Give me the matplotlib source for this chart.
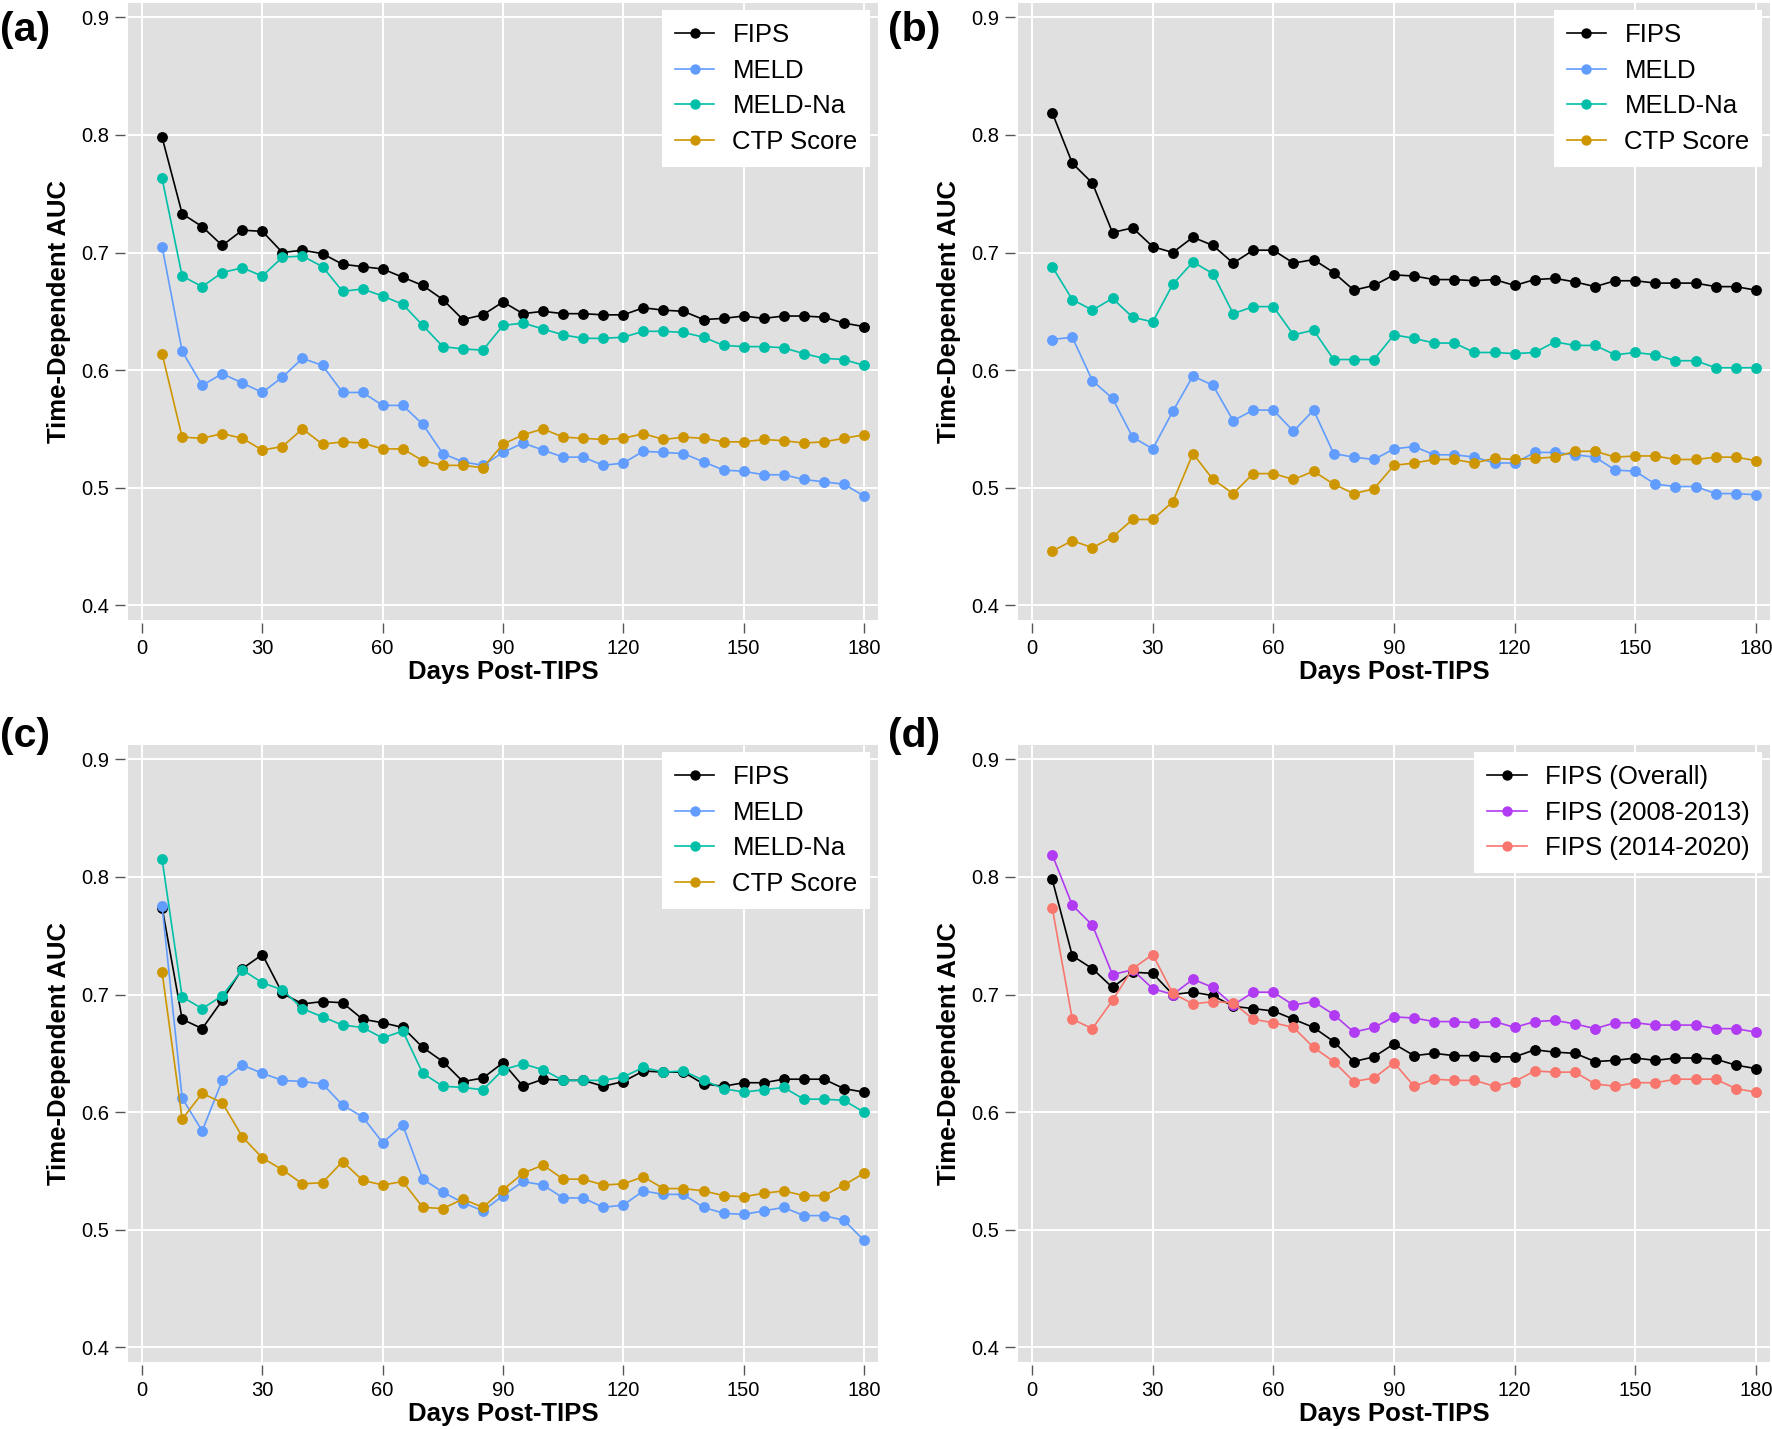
"""Time-dependent AUC of FIPS vs MELD / MELD-Na / CTP, four panels."""
import matplotlib

matplotlib.use("Agg")
import matplotlib.pyplot as plt

days = list(range(5, 181, 5))

# (a) overall cohort
fips_a = [0.798, 0.733, 0.722, 0.706, 0.719, 0.718, 0.700, 0.702, 0.699, 0.690,
          0.688, 0.686, 0.679, 0.672, 0.660, 0.643, 0.647, 0.658, 0.648, 0.650,
          0.648, 0.648, 0.647, 0.647, 0.653, 0.651, 0.650, 0.643, 0.644, 0.646,
          0.644, 0.646, 0.646, 0.645, 0.640, 0.637]
meld_a = [0.705, 0.616, 0.587, 0.597, 0.589, 0.581, 0.594, 0.610, 0.604, 0.581,
          0.581, 0.570, 0.570, 0.554, 0.529, 0.522, 0.519, 0.530, 0.538, 0.532,
          0.526, 0.526, 0.519, 0.521, 0.531, 0.530, 0.529, 0.522, 0.515, 0.514,
          0.511, 0.511, 0.507, 0.505, 0.503, 0.493]
meldna_a = [0.763, 0.680, 0.671, 0.683, 0.687, 0.680, 0.696, 0.697, 0.688, 0.667,
            0.669, 0.663, 0.656, 0.638, 0.620, 0.618, 0.617, 0.638, 0.640, 0.635,
            0.630, 0.627, 0.627, 0.628, 0.633, 0.633, 0.632, 0.628, 0.621, 0.620,
            0.620, 0.619, 0.614, 0.610, 0.609, 0.604]
ctp_a = [0.614, 0.543, 0.542, 0.546, 0.542, 0.532, 0.535, 0.550, 0.537, 0.539,
         0.538, 0.533, 0.533, 0.523, 0.519, 0.519, 0.517, 0.537, 0.545, 0.550,
         0.543, 0.542, 0.541, 0.542, 0.546, 0.541, 0.543, 0.542, 0.539, 0.539,
         0.541, 0.540, 0.538, 0.539, 0.542, 0.545]

# (b) 2008-2013
fips_b = [0.819, 0.776, 0.759, 0.717, 0.721, 0.705, 0.700, 0.713, 0.706, 0.691,
          0.702, 0.702, 0.691, 0.694, 0.683, 0.668, 0.672, 0.681, 0.680, 0.677,
          0.677, 0.676, 0.677, 0.672, 0.677, 0.678, 0.675, 0.671, 0.676, 0.676,
          0.674, 0.674, 0.674, 0.671, 0.671, 0.668]
meld_b = [0.626, 0.628, 0.591, 0.576, 0.543, 0.533, 0.565, 0.595, 0.587, 0.557,
          0.566, 0.566, 0.548, 0.566, 0.529, 0.526, 0.524, 0.533, 0.535, 0.528,
          0.528, 0.526, 0.521, 0.521, 0.530, 0.530, 0.528, 0.526, 0.515, 0.514,
          0.503, 0.501, 0.501, 0.495, 0.495, 0.494]
meldna_b = [0.688, 0.660, 0.651, 0.661, 0.645, 0.641, 0.673, 0.692, 0.682, 0.648,
            0.654, 0.654, 0.630, 0.634, 0.609, 0.609, 0.609, 0.630, 0.627, 0.623,
            0.623, 0.615, 0.615, 0.614, 0.615, 0.624, 0.621, 0.621, 0.613, 0.615,
            0.613, 0.608, 0.608, 0.602, 0.602, 0.602]
ctp_b = [0.446, 0.455, 0.449, 0.458, 0.473, 0.473, 0.488, 0.529, 0.507, 0.495,
         0.512, 0.512, 0.507, 0.514, 0.503, 0.495, 0.499, 0.519, 0.521, 0.524,
         0.524, 0.521, 0.525, 0.524, 0.525, 0.526, 0.531, 0.531, 0.526, 0.527,
         0.527, 0.524, 0.524, 0.526, 0.526, 0.523]

# (c) 2014-2020
fips_c = [0.774, 0.679, 0.671, 0.695, 0.722, 0.734, 0.701, 0.692, 0.694, 0.693,
          0.679, 0.676, 0.672, 0.655, 0.643, 0.626, 0.629, 0.642, 0.622, 0.628,
          0.627, 0.627, 0.622, 0.626, 0.635, 0.634, 0.634, 0.624, 0.622, 0.625,
          0.625, 0.628, 0.628, 0.628, 0.620, 0.617]
meld_c = [0.775, 0.612, 0.584, 0.627, 0.640, 0.633, 0.627, 0.626, 0.624, 0.606,
          0.596, 0.574, 0.589, 0.543, 0.532, 0.523, 0.516, 0.529, 0.541, 0.538,
          0.527, 0.527, 0.519, 0.521, 0.533, 0.530, 0.530, 0.519, 0.514, 0.513,
          0.516, 0.519, 0.512, 0.512, 0.508, 0.491]
meldna_c = [0.815, 0.698, 0.688, 0.699, 0.721, 0.710, 0.704, 0.688, 0.681, 0.674,
            0.672, 0.663, 0.669, 0.633, 0.622, 0.621, 0.619, 0.636, 0.641, 0.636,
            0.627, 0.627, 0.627, 0.630, 0.638, 0.634, 0.635, 0.627, 0.620, 0.617,
            0.619, 0.621, 0.611, 0.611, 0.610, 0.600]
ctp_c = [0.719, 0.594, 0.616, 0.608, 0.579, 0.561, 0.551, 0.539, 0.540, 0.558,
         0.542, 0.538, 0.541, 0.519, 0.518, 0.526, 0.519, 0.534, 0.548, 0.555,
         0.543, 0.543, 0.538, 0.539, 0.545, 0.535, 0.535, 0.533, 0.529, 0.528,
         0.531, 0.533, 0.529, 0.529, 0.538, 0.548]

score_labels = ["FIPS", "MELD", "MELD-Na", "CTP Score"]
score_colors = ["black", "#619CFF", "#00BFA8", "#CD9600"]
era_labels = ["FIPS (Overall)", "FIPS (2008-2013)", "FIPS (2014-2020)"]
era_colors = ["black", "#B03BF2", "#F8766D"]

x_ticks = [0, 30, 60, 90, 120, 150, 180]
y_ticks = [0.4, 0.5, 0.6, 0.7, 0.8, 0.9]

plt.rcParams["font.family"] = ["Liberation Sans", "DejaVu Sans"]

W, H = 1772, 1429
fig = plt.figure(figsize=(W / 100, H / 100), dpi=100)


def px_axes(x0, y0, x1, y1):
    return fig.add_axes([x0 / W, 1 - y1 / H, (x1 - x0) / W, (y1 - y0) / H])


def panel(ax, series, labels, colors, tag, tag_x, tag_y):
    ax.set_facecolor("#E0E0E0")
    for s in ax.spines.values():
        s.set_visible(False)
    ax.spines["bottom"].set_position(("outward", 2))
    ax.spines["left"].set_position(("outward", 2))
    ax.set_axisbelow(True)
    ax.grid(True, color="white", linewidth=1.4)
    for ys, lab, col in zip(series, labels, colors):
        ax.plot(days, ys, "-o", color=col, lw=1.2, ms=6.8, label=lab,
                clip_on=False, zorder=3)
    ax.set_xlim(-3.5, 183.5)
    ax.set_ylim(0.3875, 0.9122)
    ax.set_xticks(x_ticks)
    ax.set_yticks(y_ticks)
    ax.set_yticklabels([f"{v:.1f}" for v in y_ticks])
    ax.tick_params(axis="both", direction="out", length=7.5, width=1.0,
                   color="#555555", labelsize=14.5)
    ax.tick_params(axis="x", pad=4)
    ax.tick_params(axis="y", pad=4)
    ax.set_xlabel("Days Post-TIPS", fontsize=18.5, fontweight="bold", va="center")
    ax.xaxis.set_label_coords(0.5, -0.085)
    ax.set_ylabel("Time-Dependent AUC", fontsize=18.5, fontweight="bold", va="center")
    ax.yaxis.set_label_coords(-0.092, 0.5)
    leg = ax.legend(loc="upper right", bbox_to_anchor=(0.99, 0.988),
                    fontsize=18.5, frameon=True, fancybox=False, framealpha=1,
                    edgecolor="white", borderaxespad=0, borderpad=0.5,
                    labelspacing=0.45, handlelength=1.55, handletextpad=0.7,
                    markerscale=0.95)
    leg.get_frame().set_linewidth(0)
    fig.text(tag_x / W, 1 - tag_y / H, tag, fontsize=29.5, fontweight="bold",
             ha="left", va="center")


ax_a = px_axes(128, 3, 878, 620)
ax_b = px_axes(1018, 3, 1770, 620)
ax_c = px_axes(128, 745, 878, 1362)
ax_d = px_axes(1018, 745, 1770, 1362)

panel(ax_a, [fips_a, meld_a, meldna_a, ctp_a], score_labels, score_colors, "(a)", 0, 30)
panel(ax_b, [fips_b, meld_b, meldna_b, ctp_b], score_labels, score_colors, "(b)", 888, 30)
panel(ax_c, [fips_c, meld_c, meldna_c, ctp_c], score_labels, score_colors, "(c)", 0, 736)
panel(ax_d, [fips_a, fips_b, fips_c], era_labels, era_colors, "(d)", 888, 736)

fig.savefig("out.png", dpi=100)
